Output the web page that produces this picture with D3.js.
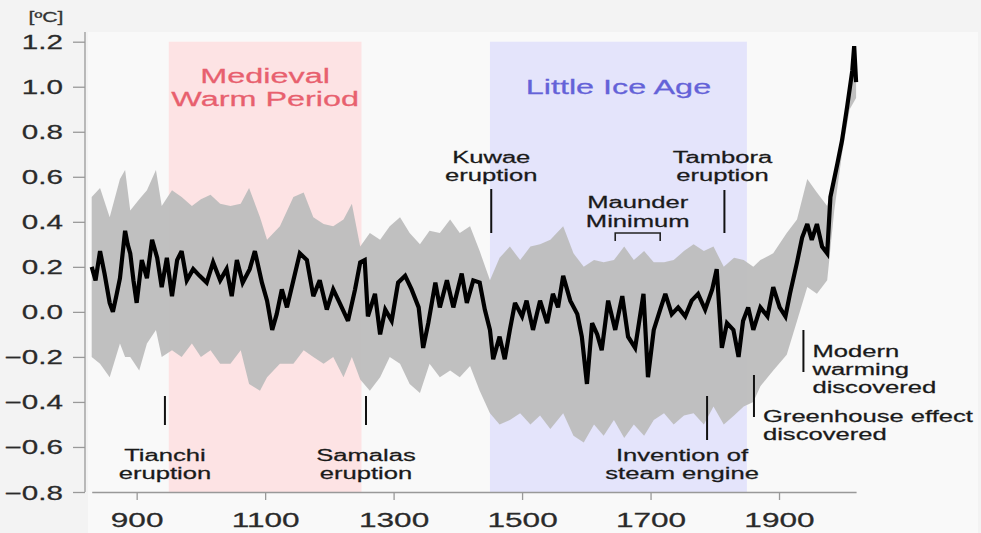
<!DOCTYPE html>
<html><head><meta charset="utf-8">
<script src="https://cdn.jsdelivr.net/npm/d3@7"></script>
<style>
html,body{margin:0;padding:0;background:#f3f3f3;}
svg{display:block;font-family:"Liberation Sans",Arial,Helvetica,sans-serif;}
svg text{stroke-width:0.25px;}
</style></head><body>
<svg id="chart" width="981" height="533"></svg>
<script>
// ---------- data ----------
const years = [830,836,843,850,858,863,869,874,882,886,890,895,900,908,916,924,932,939,947,955,963,970,978,988,998,1009,1019,1030,1040,1048,1056,1065,1076,1084,1095,1103,1111,1118,1126,1134,1144,1154,1165,1175,1185,1196,1206,1216,1229,1240,1248,1255,1260,1271,1279,1287,1297,1307,1318,1328,1339,1346,1354,1365,1372,1383,1393,1406,1414,1424,1434,1442,1450,1455,1465,1473,1481,1489,1500,1507,1517,1528,1539,1548,1556,1564,1575,1586,1593,1601,1609,1617,1624,1634,1645,1656,1665,1676,1689,1696,1705,1715,1723,1733,1743,1754,1764,1774,1785,1796,1803,1811,1819,1829,1837,1844,1852,1860,1871,1882,1891,1901,1910,1917,1928,1936,1944,1951,1959,1967,1975,1980,1991,1998,2006,2014,2017,2020];
const temps = [0.20,0.14,0.27,0.17,0.04,0.00,0.08,0.15,0.36,0.30,0.26,0.14,0.04,0.23,0.15,0.32,0.24,0.11,0.24,0.07,0.23,0.27,0.14,0.19,0.16,0.13,0.22,0.14,0.19,0.07,0.23,0.13,0.19,0.27,0.13,0.05,-0.08,-0.01,0.10,0.02,0.14,0.26,0.23,0.07,0.14,0.01,0.10,0.04,-0.04,0.10,0.22,0.23,-0.02,0.08,-0.10,0.01,-0.04,0.13,0.16,0.10,0.02,-0.16,-0.05,0.13,0.02,0.14,0.02,0.17,0.04,0.14,0.13,0.01,-0.08,-0.21,-0.11,-0.21,-0.08,0.04,-0.02,0.05,-0.08,0.05,-0.05,0.08,0.02,0.16,0.05,-0.01,-0.11,-0.32,-0.05,-0.10,-0.17,0.05,-0.08,0.07,-0.11,-0.16,0.08,-0.29,-0.08,0.01,0.08,-0.01,0.02,-0.02,0.05,0.08,0.01,0.10,0.19,-0.16,-0.05,-0.08,-0.20,-0.04,0.02,-0.08,0.02,-0.02,0.11,0.02,-0.02,0.08,0.22,0.33,0.39,0.32,0.39,0.29,0.26,0.51,0.66,0.76,0.91,1.07,1.18,1.02];

const bandYears = [830,843,858,874,882,890,904,916,930,939,955,970,986,1000,1015,1030,1046,1062,1075,1092,1103,1123,1144,1160,1175,1191,1206,1222,1235,1248,1263,1279,1294,1310,1325,1341,1356,1372,1388,1403,1419,1434,1450,1465,1481,1497,1513,1528,1544,1564,1580,1596,1612,1627,1643,1659,1674,1690,1705,1721,1736,1752,1767,1783,1798,1814,1830,1845,1860,1871,1891,1912,1928,1944,1959,1975,1986,1998,2010,2020];
const bandUpper = [0.51,0.55,0.42,0.59,0.63,0.45,0.50,0.54,0.63,0.47,0.54,0.51,0.47,0.50,0.52,0.48,0.47,0.48,0.55,0.42,0.32,0.38,0.51,0.53,0.42,0.39,0.38,0.41,0.48,0.29,0.35,0.32,0.38,0.42,0.35,0.30,0.36,0.35,0.41,0.35,0.38,0.27,0.14,0.24,0.29,0.23,0.29,0.30,0.32,0.38,0.26,0.20,0.23,0.22,0.23,0.29,0.23,0.27,0.22,0.22,0.23,0.27,0.30,0.27,0.29,0.20,0.24,0.23,0.20,0.23,0.26,0.35,0.41,0.59,0.53,0.47,0.60,0.80,1.00,1.12];
const bandLower = [-0.20,-0.23,-0.29,-0.14,-0.20,-0.20,-0.26,-0.14,-0.08,-0.20,-0.17,-0.20,-0.14,-0.20,-0.17,-0.23,-0.23,-0.17,-0.32,-0.35,-0.29,-0.23,-0.23,-0.17,-0.20,-0.23,-0.20,-0.29,-0.20,-0.30,-0.35,-0.29,-0.20,-0.23,-0.32,-0.36,-0.23,-0.29,-0.26,-0.29,-0.24,-0.35,-0.45,-0.50,-0.48,-0.45,-0.50,-0.46,-0.52,-0.45,-0.55,-0.58,-0.50,-0.55,-0.48,-0.56,-0.50,-0.55,-0.48,-0.45,-0.50,-0.46,-0.45,-0.50,-0.42,-0.50,-0.46,-0.42,-0.40,-0.33,-0.26,-0.19,-0.04,0.11,0.08,0.14,0.45,0.70,0.90,0.95];

const yTickValues = [-0.8,-0.6,-0.4,-0.2,0.0,0.2,0.4,0.6,0.8,1.0,1.2];
const xTickValues = [900,1100,1300,1500,1700,1900];
const unitLabel = "[ºC]";

const periodLabels = [["Medieval","Warm Period"],["Little Ice Age"]];
const periodStart = [950,1450];
const periodEnd = [1250,1850];

const eventLabels = [["Tianchi","eruption"],["Samalas","eruption"],["Kuwae","eruption"],["Tambora","eruption"],["Invention of","steam engine"],["Greenhouse effect","discovered"],["Modern","warming","discovered"]];
const eventYears = [944,1257,1452,1815,1788,1861,1938];
const maunderLabel = ["Maunder","Minimum"];
const maunderYears = [1645,1715];

// ---------- drawing ----------
const W = 981, H = 533;
const svg = d3.select("#chart");
const x = d3.scaleLinear().domain([830,2020]).range([91.7,856.1]);
const y = d3.scaleLinear().domain([-0.8,1.2]).range([492,41.7]);
const SXY = 1.52;    // horizontal stretch of the reference lettering
const SXX = 1.62;
const SXP = 1.62;
const SXA = 1.6;

svg.append("rect").attr("x",88).attr("y",32).attr("width",890).attr("height",H-32).attr("fill","#f9f9f9");

function sText(g, txt, px, py, size, anchor, fill, sx){
  return g.append("text").text(txt)
    .attr("transform",`translate(${px},${py}) scale(${sx},1)`)
    .attr("text-anchor",anchor).attr("font-size",size).attr("fill",fill).attr("stroke",fill);
}

// period shading
const periodFill = ["#fde3e4","#e4e4fb"];
const periodText = ["#e8606e","#6462d8"];
periodStart.forEach((s,i)=>{
  svg.append("rect").attr("x",x(s)).attr("y",y(1.2))
    .attr("width",x(periodEnd[i])-x(s)).attr("height",y(-0.8)-y(1.2))
    .attr("fill",periodFill[i]);
});

// uncertainty band
const band = bandYears.map((yr,i)=>({yr,u:bandUpper[i],l:bandLower[i]}));
svg.append("path").datum(band)
  .attr("d",d3.area().x(d=>x(d.yr)).y0(d=>y(d.l)).y1(d=>y(d.u)))
  .attr("fill","#bdbdbd").attr("fill-opacity",0.95);

// temperature line
const series = years.map((yr,i)=>({yr,v:temps[i]}));
svg.append("path").datum(series)
  .attr("d",d3.line().x(d=>x(d.yr)).y(d=>y(d.v)))
  .attr("fill","none").attr("stroke","#000").attr("stroke-width",4.2).attr("stroke-linejoin","miter").attr("stroke-miterlimit",3);

// period labels
const pl = svg.append("g");
periodLabels[0].forEach((t,k)=>sText(pl,t,(x(periodStart[0])+x(periodEnd[0]))/2,83+k*23,20,"middle",periodText[0],SXP));
sText(pl,periodLabels[1][0],(x(periodStart[1])+x(periodEnd[1]))/2,94,20,"middle",periodText[1],SXP);

// axes
const yAxis = svg.append("g").attr("transform","translate(85,0)")
  .call(d3.axisLeft(y).tickValues(yTickValues).tickSize(12).tickSizeOuter(0)
    .tickFormat(d=>d3.format(".1f")(d).replace("-","\u2212")));
yAxis.select(".domain").remove();
yAxis.append("line").attr("x1",0).attr("x2",0).attr("y1",32).attr("y2",y(-0.8));
yAxis.selectAll("line").attr("stroke","#999").attr("stroke-width",1.3);
yAxis.selectAll(".tick text").attr("x",null).attr("dy",null)
  .attr("transform","translate(-22,7) scale("+SXY+",1)")
  .attr("font-size",19.5).attr("fill","#2a2a2a").attr("stroke","#2a2a2a").attr("font-family","Liberation Sans, Arial, sans-serif");

const xAxis = svg.append("g").attr("transform",`translate(0,${y(-0.8)})`)
  .call(d3.axisBottom(x).tickValues(xTickValues).tickSize(8).tickSizeOuter(0).tickFormat(d3.format("d")));
xAxis.select(".domain").attr("stroke","#999").attr("stroke-width",1.3);
xAxis.selectAll("line").attr("stroke","#999").attr("stroke-width",1.3);
xAxis.selectAll(".tick text").attr("y",null).attr("dy",null)
  .attr("transform","translate(0,35) scale("+SXX+",1)")
  .attr("font-size",19.5).attr("fill","#2a2a2a").attr("stroke","#2a2a2a").attr("font-family","Liberation Sans, Arial, sans-serif");

sText(svg,unitLabel,46,22,14,"middle","#333",SXY);

// event annotations
const ann = svg.append("g");
const annSize = 16, annFill = "#1a1a1a", lh = 18;
// [lineTop, lineBottom, textX offset, first baseline, anchor]
const layout = [
  [396,425,0,461,"middle"],
  [396,425,0,461,"middle"],
  [189,233,0,163,"middle"],
  [190,233,-2,163,"middle"],
  [396,440,-25,461,"middle"],
  [375,417,9,422,"start"],
  [330,372,9,357,"start"]
];
eventYears.forEach((yr,i)=>{
  const L = layout[i], px = x(yr);
  ann.append("line").attr("x1",px).attr("x2",px).attr("y1",L[0]).attr("y2",L[1])
    .attr("stroke","#111").attr("stroke-width",2);
  eventLabels[i].forEach((t,k)=>sText(ann,t,px+L[2],L[3]+k*lh,annSize,L[4],annFill,SXA));
});
// Maunder minimum bracket
const mx0 = x(maunderYears[0]), mx1 = x(maunderYears[1]);
ann.append("path").attr("d",`M${mx0},241V233H${mx1}V241`).attr("fill","none").attr("stroke","#222").attr("stroke-width",1.6);
maunderLabel.forEach((t,k)=>sText(ann,t,(mx0+mx1)/2,208+k*18.5,annSize,"middle",annFill,SXA));
</script>
</body></html>
